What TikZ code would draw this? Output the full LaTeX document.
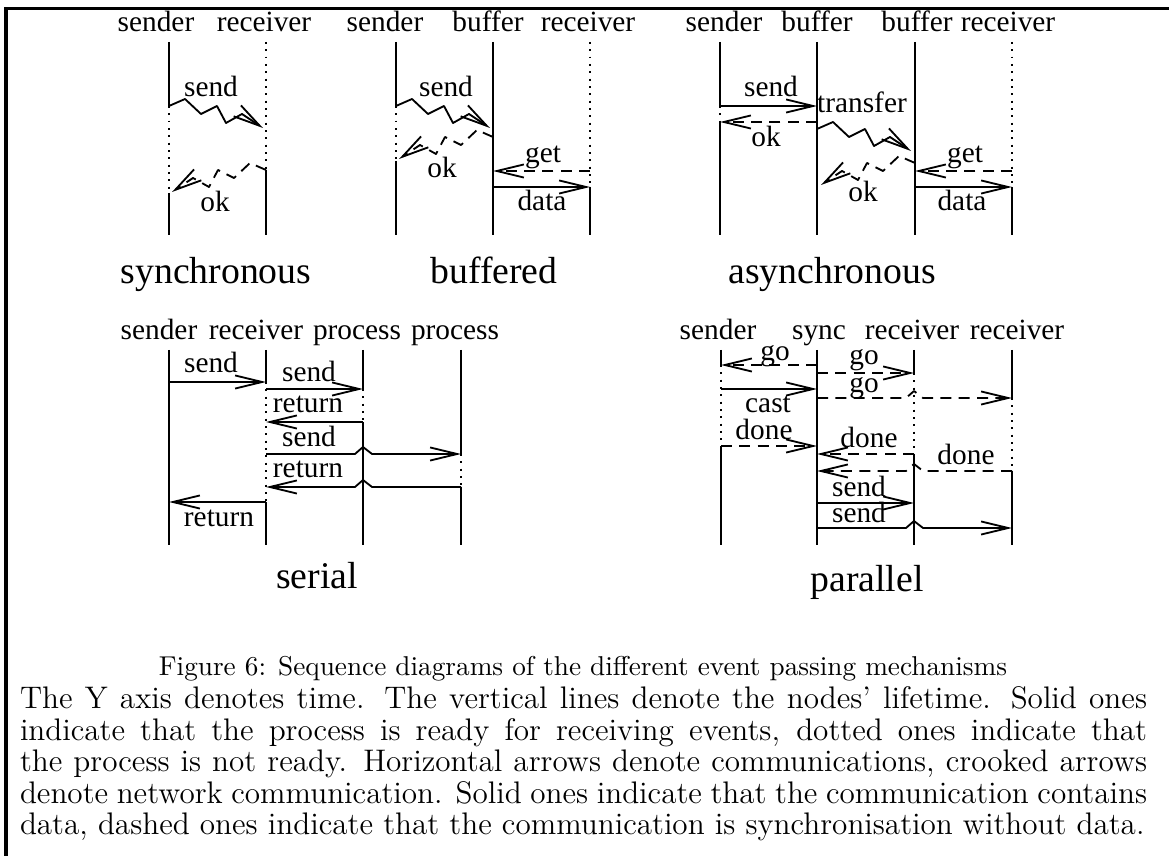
\documentclass[tikz,border=0pt]{standalone}
\usepackage{fontspec}
\newfontfamily\tms{Liberation Serif}
\usetikzlibrary{arrows.meta}

\begin{document}
\begin{tikzpicture}[x=0.3817pt, y=-0.3817pt,
  every node/.style={inner sep=0pt, outer sep=0pt},
  lbl/.style={font=\tms\fontsize{11.2}{13}\selectfont, anchor=base},
  big/.style={font=\tms\fontsize{14.4}{17}\selectfont, anchor=base},
  life/.style={line width=0.7pt},
  idle/.style={line width=0.7pt, dash pattern=on 0.7pt off 2.1pt},
  msg/.style={line width=0.7pt, line join=round, -{Straight Barb[length=10.3pt,width=5pt]}},
  sig/.style={msg, dash pattern=on 4.2pt off 2.8pt},
  zigR/.style={insert path={-- ++(16,-7) -- ++(16,15) -- ++(16,-8) -- ++(9,17) -- ++(16,-9) -- ++(21,14)}},
  zigL/.style={insert path={-- ++(-16,-7) -- ++(-16,15) -- ++(-16,-8) -- ++(-9,17) -- ++(-16,-9) -- ++(-21,14)}},
]
\useasboundingbox (0,0) rectangle (1169,856);

% frame
\draw[line width=1.15pt, line join=miter] (6,856) -- (6,9) -- (1169,9);

% ---------- synchronous ----------
\node[lbl] (syS) at (156,32) {sender};
\node[lbl] (syR) at (264,32) {receiver};
\draw[life] (169,42) -- (169,106);
\draw[idle] (169,106) -- (169,193);
\draw[life] (169,193) -- (169,235);
\draw[idle] (266,42) -- (266,170);
\draw[life] (266,170) -- (266,235);
\draw[msg] (169,106) [zigR];
\draw[sig] (266,170) [zigL];
\node[lbl] (sySend) at (211,97) {send};
\node[lbl] (syOk) at (215,212) {ok};
\node[big] (syT) at (216,284) {synchronous};

% ---------- buffered ----------
\node[lbl] (buS) at (385,32) {sender};
\node[lbl] (buB) at (488,32) {buffer};
\node[lbl] (buR) at (588,32) {receiver};
\draw[life] (396,42) -- (396,106);
\draw[idle] (396,106) -- (396,161);
\draw[life] (396,161) -- (396,235);
\draw[life] (493,42) -- (493,235);
\draw[idle] (590,42) -- (590,187);
\draw[life] (590,187) -- (590,235);
\draw[msg] (396,106) [zigR];
\draw[sig] (493,137) [zigL];
\draw[sig] (590,171) -- (493,171);
\draw[msg] (493,187) -- (590,187);
\node[lbl] (buSend) at (446,97) {send};
\node[lbl] (buOk) at (442,178) {ok};
\node[lbl] (buGet) at (543,163) {get};
\node[lbl] (buData) at (542,211) {data};
\node[big] (buT) at (494,284) {buffered};

% ---------- asynchronous ----------
\node[lbl] (asS) at (724,32) {sender};
\node[lbl] (asB1) at (817,32) {buffer};
\node[lbl] (asB2) at (917,32) {buffer};
\node[lbl] (asR) at (1008,32) {receiver};
\draw[life] (720,42) -- (720,106);
\draw[idle] (720,106) -- (720,122);
\draw[life] (720,122) -- (720,235);
\draw[life] (817,42) -- (817,235);
\draw[life] (915,42) -- (915,235);
\draw[idle] (1012,42) -- (1012,187);
\draw[life] (1012,187) -- (1012,235);
\draw[msg] (720,106) -- (817,106);
\draw[sig] (817,122) -- (720,122);
\draw[msg] (817,129) [zigR];
\draw[sig] (915,163) [zigL];
\draw[sig] (1012,171) -- (915,171);
\draw[msg] (915,187) -- (1012,187);
\node[lbl] (asSend) at (771,97) {send};
\node[lbl] (asOk1) at (766,147) {ok};
\node[lbl] (asTr) at (862,113) {transfer};
\node[lbl] (asOk2) at (863,202) {ok};
\node[lbl] (asGet) at (965,163) {get};
\node[lbl] (asData) at (962,211) {data};
\node[big] (asT) at (832,284) {asynchronous};

% ---------- serial ----------
\node[lbl] (seS) at (159,340) {sender};
\node[lbl] (seR) at (256,340) {receiver};
\node[lbl] (seP1) at (357,340) {process};
\node[lbl] (seP2) at (455,340) {process};
\draw[life] (169,350) -- (169,545);
\draw[life] (266,350) -- (266,382);
\draw[idle] (266,382) -- (266,502);
\draw[life] (266,502) -- (266,545);
\draw[life] (363,350) -- (363,389);
\draw[idle] (363,389) -- (363,422);
\draw[life] (363,422) -- (363,545);
\draw[life] (461,350) -- (461,454);
\draw[idle] (461,454) -- (461,487);
\draw[life] (461,487) -- (461,545);
\draw[msg] (169,382) -- (266,382);
\draw[msg] (266,389) -- (363,389);
\draw[msg] (363,422) -- (266,422);
\draw[msg] (266,454) -- (355,454) -- (363,447) -- (372,454) -- (461,454);
\draw[msg] (461,487) -- (372,487) -- (363,480) -- (355,487) -- (266,487);
\draw[msg] (266,502) -- (169,502);
\node[lbl] (seSend1) at (211,373) {send};
\node[lbl] (seSend2) at (309,382) {send};
\node[lbl] (seRet1) at (308,413) {return};
\node[lbl] (seSend3) at (309,447) {send};
\node[lbl] (seRet2) at (308,478) {return};
\node[lbl] (seRet3) at (219,527) {return};
\node[big] (seT) at (317,589) {serial};

% ---------- parallel ----------
\node[lbl] (paS) at (718,340) {sender};
\node[lbl] (paY) at (819,340) {sync};
\node[lbl] (paR1) at (912,340) {receiver};
\node[lbl] (paR2) at (1017,340) {receiver};
\draw[life] (721,350) -- (721,365);
\draw[idle] (721,365) -- (721,446);
\draw[life] (721,446) -- (721,545);
\draw[life] (817,350) -- (817,545);
\draw[life] (914,350) -- (914,373);
\draw[idle] (914,373) -- (914,454);
\draw[life] (914,454) -- (914,545);
\draw[life] (1012,350) -- (1012,398);
\draw[idle] (1012,398) -- (1012,471);
\draw[life] (1012,471) -- (1012,545);
\draw[sig] (817,365) -- (721,365);
\draw[sig] (817,373) -- (914,373);
\draw[msg] (721,389) -- (817,389);
\draw[sig] (817,398) -- (906,398) -- (914,391) -- (923,398) -- (1012,398);
\draw[sig] (721,446) -- (817,446);
\draw[sig] (914,454) -- (817,454);
\draw[sig] (1012,471) -- (923,471) -- (914,464) -- (906,471) -- (817,471);
\draw[msg] (817,503) -- (914,503);
\draw[msg] (817,528) -- (906,528) -- (914,521) -- (923,528) -- (1012,528);
\node[lbl] (paGo1) at (775,361) {go};
\node[lbl] (paGo2) at (864,365) {go};
\node[lbl] (paCast) at (768,413) {cast};
\node[lbl] (paGo3) at (864,393) {go};
\node[lbl] (paDone1) at (764,440) {done};
\node[lbl] (paDone2) at (869,448) {done};
\node[lbl] (paDone3) at (966,465) {done};
\node[lbl] (paSend1) at (859,497) {send};
\node[lbl] (paSend2) at (859,523) {send};
\node[big] (paT) at (867,592) {parallel};

% ---------- caption ----------
\node[anchor=base, font=\fontsize{10.4}{12}\selectfont] (capTitle) at (583,676)
  {Figure 6: Sequence diagrams of the different event passing mechanisms};
\node[anchor=base west] (capText) at (20,709) {\parbox[t]{430.2pt}{\fontsize{11.9}{12}\selectfont
The Y axis denotes time. The vertical lines denote the nodes' lifetime. Solid ones\linebreak
indicate that the process is ready for receiving events, dotted ones indicate that\linebreak
the process is not ready. Horizontal arrows denote communications, crooked arrows\linebreak
denote network communication. Solid ones indicate that the communication contains\linebreak
data, dashed ones indicate that the communication is synchronisation without data.}};
\end{tikzpicture}
\end{document}
